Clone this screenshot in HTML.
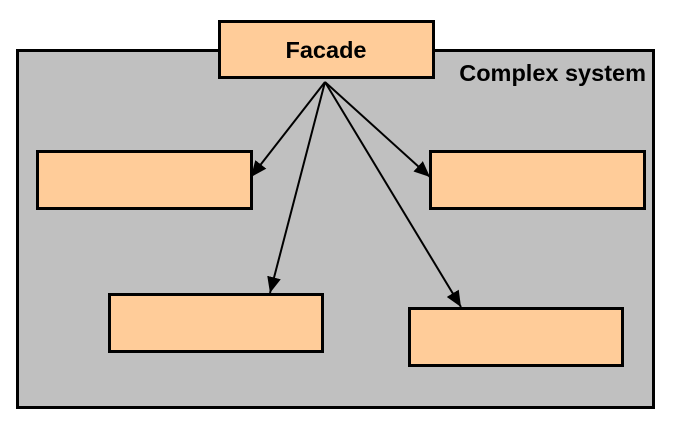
<!DOCTYPE html>
<html><head><style>body{margin:0;background:#fff}</style></head><body>
<svg width="673" height="434" xmlns="http://www.w3.org/2000/svg" style="display:block">
<defs>
<marker id="m" viewBox="0 0 10 10" refX="10" refY="5" markerWidth="16" markerHeight="14" orient="auto" markerUnits="userSpaceOnUse" preserveAspectRatio="none"><path d="M0,0L10,5L0,10z" fill="#000"/></marker></defs>
<rect x="17.5" y="50.5" width="636" height="357" fill="#c0c0c0" stroke="#000" stroke-width="3"/>
<text x="646" y="81" text-anchor="end" font-family="Liberation Sans, sans-serif" font-weight="bold" font-size="23.5">Complex system</text>
<g fill="#ffcc99" stroke="#000" stroke-width="3">
<rect x="219.5" y="21.5" width="214" height="56"/>
<rect x="37.5" y="151.5" width="214" height="57"/>
<rect x="430.5" y="151.5" width="214" height="57"/>
<rect x="109.5" y="294.5" width="213" height="57"/>
<rect x="409.5" y="308.5" width="213" height="57"/>
</g>
<text x="326" y="58" text-anchor="middle" font-family="Liberation Sans, sans-serif" font-weight="bold" font-size="23.5">Facade</text>
<g stroke="#000" stroke-width="2" fill="none">
<line x1="325" y1="82" x2="251" y2="177" marker-end="url(#m)"/>
<line x1="325" y1="82" x2="430" y2="177" marker-end="url(#m)"/>
<line x1="325" y1="82" x2="270" y2="293" marker-end="url(#m)"/>
<line x1="325" y1="82" x2="461" y2="307" marker-end="url(#m)"/>
</g>
</svg>
</body></html>
